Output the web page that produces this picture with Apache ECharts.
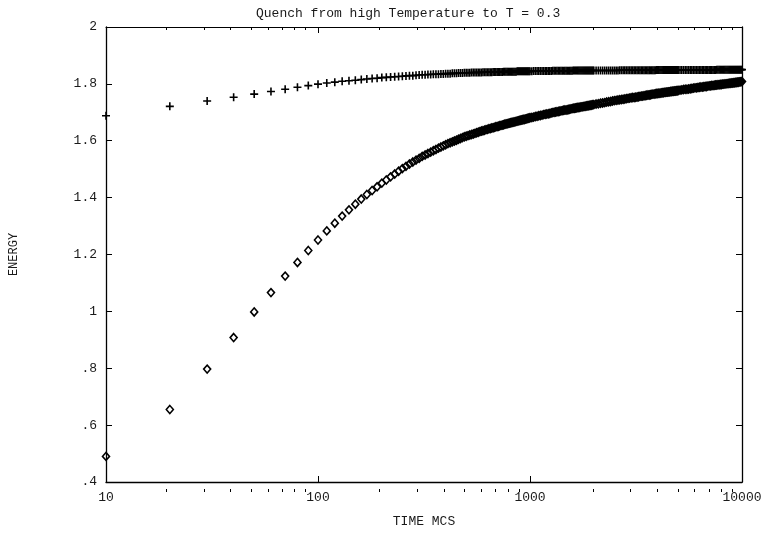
<!DOCTYPE html>
<html>
<head>
<meta charset="utf-8">
<script src="https://cdn.jsdelivr.net/npm/echarts@6/dist/echarts.min.js"></script>
<style>
html,body{margin:0;padding:0;background:#fff;}
#chart{width:766px;height:533px;}
</style>
</head>
<body>
<div id="chart"></div>
<script>
// ---- DATA ----
const titleText = 'Quench from high Temperature to T = 0.3';
const xAxisName = 'TIME MCS';
const yAxisName = 'ENERGY';

const timeMCS = [
10,20,30,40,50,60,70,80,90,100,
110,120,130,140,150,160,170,180,190,200,
210,220,230,240,250,260,270,280,290,300,
310,320,330,340,350,360,370,380,390,400,
410,420,430,440,450,460,470,480,490,500,
510,520,530,540,550,560,570,580,590,600,
610,620,630,640,650,660,670,680,690,700,
710,720,730,740,750,760,770,780,790,800,
810,820,830,840,850,860,870,880,890,900,
910,920,930,940,950,960,970,980,990,1000,
1020,1040,1060,1080,1100,1120,1140,1160,1180,1200,
1220,1240,1260,1280,1300,1320,1340,1360,1380,1400,
1420,1440,1460,1480,1500,1520,1540,1560,1580,1600,
1620,1640,1660,1680,1700,1720,1740,1760,1780,1800,
1820,1840,1860,1880,1900,1920,1940,1960,1980,2000,
2050,2100,2150,2200,2250,2300,2350,2400,2450,2500,
2550,2600,2650,2700,2750,2800,2850,2900,2950,3000,
3050,3100,3150,3200,3250,3300,3350,3400,3450,3500,
3550,3600,3650,3700,3750,3800,3850,3900,3950,4000,
4050,4100,4150,4200,4250,4300,4350,4400,4450,4500,
4550,4600,4650,4700,4750,4800,4850,4900,4950,5000,
5100,5200,5300,5400,5500,5600,5700,5800,5900,6000,
6100,6200,6300,6400,6500,6600,6700,6800,6900,7000,
7100,7200,7300,7400,7500,7600,7700,7800,7900,8000,
8100,8200,8300,8400,8500,8600,8700,8800,8900,9000,
9100,9200,9300,9400,9500,9600,9700,9800,9900,10000
];

// diamonds (lower curve)
const energyDiamond = [
0.490,0.655,0.797,0.908,0.998,1.066,1.124,1.172,1.214,1.251,
1.283,1.310,1.335,1.357,1.377,1.395,1.411,1.425,1.438,1.451,
1.462,1.473,1.483,1.493,1.502,1.510,1.518,1.525,1.532,1.538,
1.545,1.550,1.555,1.560,1.565,1.569,1.574,1.578,1.582,1.586,
1.590,1.593,1.596,1.599,1.602,1.605,1.608,1.611,1.614,1.616,
1.618,1.620,1.622,1.624,1.626,1.628,1.630,1.632,1.634,1.635,
1.637,1.639,1.640,1.642,1.643,1.645,1.646,1.647,1.649,1.650,
1.651,1.653,1.654,1.655,1.656,1.658,1.659,1.660,1.661,1.662,
1.663,1.664,1.665,1.666,1.667,1.668,1.669,1.670,1.671,1.672,
1.673,1.674,1.675,1.675,1.676,1.677,1.678,1.679,1.680,1.681,
1.682,1.683,1.685,1.686,1.688,1.689,1.690,1.692,1.693,1.694,
1.695,1.696,1.698,1.699,1.700,1.701,1.702,1.703,1.704,1.705,
1.706,1.707,1.708,1.708,1.709,1.710,1.711,1.712,1.713,1.714,
1.714,1.715,1.716,1.717,1.717,1.718,1.719,1.719,1.720,1.721,
1.721,1.722,1.723,1.723,1.724,1.725,1.725,1.726,1.727,1.727,
1.729,1.730,1.732,1.733,1.734,1.736,1.737,1.738,1.740,1.741,
1.742,1.743,1.744,1.745,1.746,1.747,1.748,1.749,1.750,1.751,
1.752,1.752,1.753,1.754,1.755,1.756,1.757,1.757,1.758,1.759,
1.760,1.761,1.761,1.762,1.763,1.764,1.764,1.765,1.766,1.766,
1.767,1.767,1.768,1.769,1.769,1.770,1.770,1.771,1.771,1.772,
1.772,1.773,1.773,1.774,1.774,1.775,1.775,1.776,1.776,1.777,
1.778,1.779,1.780,1.781,1.781,1.782,1.783,1.784,1.785,1.786,
1.786,1.787,1.788,1.789,1.789,1.790,1.791,1.791,1.792,1.793,
1.793,1.794,1.794,1.795,1.796,1.796,1.797,1.797,1.798,1.798,
1.799,1.799,1.800,1.800,1.801,1.801,1.802,1.802,1.803,1.803,
1.804,1.804,1.805,1.805,1.806,1.806,1.807,1.807,1.808,1.808
];

// plus signs (upper curve)
const energyPlus = [
1.688,1.721,1.740,1.753,1.764,1.773,1.781,1.788,1.794,1.799,
1.803,1.806,1.809,1.811,1.813,1.815,1.817,1.819,1.820,1.822,
1.823,1.824,1.825,1.826,1.827,1.828,1.829,1.829,1.830,1.831,
1.832,1.832,1.833,1.833,1.834,1.834,1.834,1.835,1.835,1.836,
1.836,1.836,1.837,1.837,1.837,1.838,1.838,1.838,1.839,1.839,
1.839,1.839,1.840,1.840,1.840,1.840,1.840,1.840,1.840,1.841,
1.841,1.841,1.841,1.841,1.841,1.841,1.842,1.842,1.842,1.842,
1.842,1.842,1.842,1.842,1.843,1.843,1.843,1.843,1.843,1.843,
1.843,1.843,1.843,1.843,1.843,1.843,1.844,1.844,1.844,1.844,
1.844,1.844,1.844,1.844,1.844,1.844,1.844,1.844,1.844,1.844,
1.844,1.845,1.845,1.845,1.845,1.845,1.845,1.845,1.845,1.845,
1.845,1.845,1.845,1.846,1.846,1.846,1.846,1.846,1.846,1.846,
1.846,1.846,1.846,1.846,1.846,1.846,1.846,1.846,1.846,1.847,
1.847,1.847,1.847,1.847,1.847,1.847,1.847,1.847,1.847,1.847,
1.847,1.847,1.847,1.847,1.847,1.847,1.847,1.847,1.847,1.847,
1.847,1.847,1.847,1.847,1.847,1.847,1.847,1.847,1.847,1.847,
1.847,1.847,1.848,1.848,1.848,1.848,1.848,1.848,1.848,1.848,
1.848,1.848,1.848,1.848,1.848,1.848,1.848,1.848,1.848,1.848,
1.848,1.848,1.848,1.848,1.848,1.848,1.848,1.848,1.849,1.849,
1.849,1.849,1.849,1.849,1.849,1.849,1.849,1.849,1.849,1.849,
1.849,1.849,1.849,1.849,1.849,1.849,1.849,1.849,1.849,1.849,
1.849,1.849,1.849,1.849,1.849,1.849,1.849,1.849,1.849,1.849,
1.849,1.849,1.849,1.849,1.849,1.849,1.849,1.849,1.849,1.849,
1.849,1.849,1.849,1.849,1.849,1.850,1.850,1.850,1.850,1.850,
1.850,1.850,1.850,1.850,1.850,1.850,1.850,1.850,1.850,1.850,
1.850,1.850,1.850,1.850,1.850,1.850,1.850,1.850,1.850,1.850
];

const yTicks = [0.4,0.6,0.8,1.0,1.2,1.4,1.6,1.8,2.0];
const yTickLabels = ['.4','.6','.8','1','1.2','1.4','1.6','1.8','2'];
const xMajorTicks = [10,100,1000,10000];
const xTickLabels = ['10','100','1000','10000'];
const xMinorTicks = [20,30,40,50,60,70,80,90,200,300,400,500,600,700,800,900,2000,3000,4000,5000,6000,7000,8000,9000];

// ---- CHART ----
const FONT = '"Liberation Mono", "DejaVu Sans Mono", monospace';
const TXT = '#1a1a1a';
const gridRect = {left:102, right:24, top:27, bottom:41};

function yLabel(v){
  for (let i=0;i<yTicks.length;i++){ if (Math.abs(yTicks[i]-v)<1e-6) return yTickLabels[i]; }
  return '';
}
function xLabel(v){
  for (let i=0;i<xMajorTicks.length;i++){ if (Math.abs(xMajorTicks[i]-v)<1e-6) return xTickLabels[i]; }
  return '';
}

const chart = echarts.init(document.getElementById('chart'), null, {renderer:'canvas'});
const lineStyle = {color:'#000', width:1};
const option = {
  animation:false,
  backgroundColor:'#fff',
  title:{text:titleText, left:251, top:2,
    textStyle:{fontFamily:FONT, fontSize:13, fontWeight:'normal', color:TXT}},
  grid:[
    Object.assign({containLabel:false}, gridRect),
    Object.assign({containLabel:false}, gridRect)
  ],
  xAxis:[
    {type:'log', logBase:10, gridIndex:0, position:'bottom', min:10, max:10000,
     name:xAxisName, nameLocation:'middle', nameGap:33,
     nameTextStyle:{fontFamily:FONT, fontSize:13, color:TXT},
     axisLine:{show:true, lineStyle:{color:'#000', width:1.3}},
     axisTick:{show:true, inside:true, length:6, customValues:xMajorTicks, lineStyle:lineStyle},
     axisLabel:{show:true, margin:9, fontFamily:FONT, fontSize:13, color:TXT, formatter:xLabel, customValues:xMajorTicks},
     splitLine:{show:false}, minorTick:{show:false}},
    {type:'log', logBase:10, gridIndex:0, position:'top', min:10, max:10000,
     axisLine:{show:true, lineStyle:lineStyle},
     axisTick:{show:true, inside:true, length:6, customValues:xMajorTicks, lineStyle:lineStyle},
     axisLabel:{show:false}, splitLine:{show:false}},
    {type:'log', logBase:10, gridIndex:1, position:'bottom', min:10, max:10000,
     axisLine:{show:false},
     axisTick:{show:true, inside:true, length:3, customValues:xMinorTicks, lineStyle:lineStyle},
     axisLabel:{show:false}, splitLine:{show:false}},
    {type:'log', logBase:10, gridIndex:1, position:'top', min:10, max:10000,
     axisLine:{show:false},
     axisTick:{show:true, inside:true, length:3, customValues:xMinorTicks, lineStyle:lineStyle},
     axisLabel:{show:false}, splitLine:{show:false}}
  ],
  yAxis:[
    {type:'value', gridIndex:0, position:'left', min:0.4, max:2, interval:0.2,
     name:yAxisName, nameLocation:'middle', nameGap:86, nameRotate:90,
     nameTextStyle:{fontFamily:FONT, fontSize:12, color:TXT},
     axisLine:{show:true, lineStyle:{color:'#000', width:1.3}},
     axisTick:{show:true, inside:true, length:6, lineStyle:lineStyle},
     axisLabel:{show:true, margin:9, fontFamily:FONT, fontSize:13, color:TXT, formatter:yLabel},
     splitLine:{show:false}},
    {type:'value', gridIndex:0, position:'right', min:0.4, max:2, interval:0.2,
     axisLine:{show:true, lineStyle:{color:'#000', width:1.3}},
     axisTick:{show:true, inside:true, length:6, lineStyle:lineStyle},
     axisLabel:{show:false}, splitLine:{show:false}},
    {type:'value', gridIndex:1, min:0, max:1, show:false}
  ],
  series:[
    {type:'scatter', name:'diamond', xAxisIndex:0, yAxisIndex:0,
     data: timeMCS.map((t,i)=>[t, energyDiamond[i]]),
     symbol:'diamond', symbolSize:[7,8], clip:false,
     itemStyle:{color:'rgba(0,0,0,0)', borderColor:'#000', borderWidth:1.6, opacity:1},
     emphasis:{disabled:true}, silent:true},
    {type:'scatter', name:'plus', xAxisIndex:0, yAxisIndex:0,
     data: timeMCS.map((t,i)=>[t, energyPlus[i]]),
     symbol:'path://M4,0H6V4H10V6H6V10H4V6H0V4H4Z', symbolSize:8, clip:false,
     itemStyle:{color:'#000', opacity:1},
     emphasis:{disabled:true}, silent:true}
  ]
};
chart.setOption(option);
</script>
</body>
</html>
